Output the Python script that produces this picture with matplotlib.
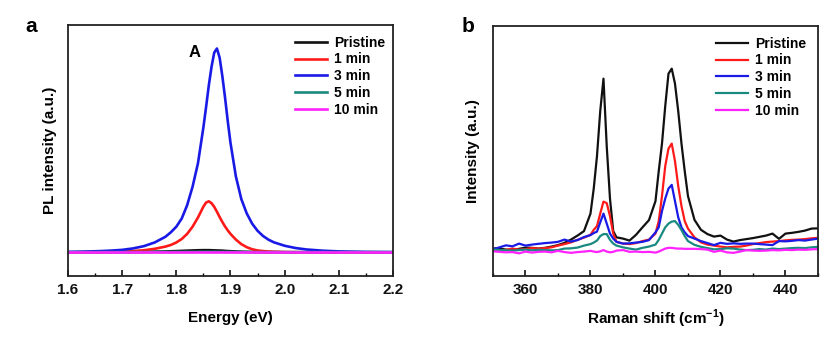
import matplotlib
matplotlib.use("Agg")
import matplotlib.pyplot as plt
from matplotlib.ticker import MultipleLocator

plt.rcParams['font.family'] = ['Liberation Sans', 'DejaVu Sans']
plt.rcParams['font.weight'] = 'bold'
plt.rcParams['mathtext.fontset'] = 'custom'
plt.rcParams['mathtext.rm'] = 'Liberation Sans:bold'
plt.rcParams['mathtext.bf'] = 'Liberation Sans:bold'

# ---- panel a: PL spectra ----
energy = [1.60, 1.63, 1.66, 1.68, 1.70, 1.72, 1.74, 1.76, 1.78, 1.79, 1.80,
          1.81, 1.82, 1.83, 1.84, 1.85, 1.855, 1.86, 1.865, 1.87, 1.875,
          1.88, 1.885, 1.89, 1.895, 1.90, 1.91, 1.92, 1.93, 1.94, 1.95,
          1.96, 1.97, 1.98, 2.00, 2.02, 2.04, 2.07, 2.10, 2.15, 2.20]
pl_pristine = [0.0, 0.03, 0.06, 0.08, 0.1, 0.15, 0.2, 0.3, 0.4, 0.5, 0.6,
               0.7, 0.8, 0.9, 1.0, 1.05, 1.05, 1.05, 1.0, 0.95, 0.9,
               0.85, 0.8, 0.7, 0.6, 0.55, 0.4, 0.3, 0.2, 0.15, 0.1,
               0.08, 0.05, 0.03, 0.0, 0.0, 0.0, 0.0, 0.0, 0.0, 0.0]
pl_1min = [0.0, 0.05, 0.1, 0.2, 0.3, 0.6, 1.0, 1.7, 2.8, 3.6, 4.8,
           6.5, 9.0, 12.5, 17.0, 22.3, 24.3, 24.9, 24.0, 22.2, 19.8,
           17.2, 14.8, 12.6, 10.7, 9.0, 6.2, 4.0, 2.5, 1.5, 0.9,
           0.6, 0.4, 0.3, 0.15, 0.1, 0.05, 0.0, 0.0, 0.0, 0.0]
pl_3min = [0.2, 0.35, 0.6, 0.85, 1.2, 1.9, 3.0, 4.8, 7.6, 9.8, 12.5,
           16.5, 23.0, 32.0, 43.5, 61.0, 71.0, 81.5, 90.5, 97.5, 99.5,
           95.0, 86.0, 75.5, 64.0, 53.5, 37.0, 26.0, 19.0, 14.0, 10.5,
           8.0, 6.2, 4.9, 3.2, 2.1, 1.4, 0.8, 0.45, 0.2, 0.1]
pl_5min = [0.1, 0.1, 0.1, 0.1, 0.1, 0.1, 0.1, 0.15, 0.15, 0.15, 0.2,
           0.2, 0.2, 0.2, 0.25, 0.25, 0.25, 0.25, 0.25, 0.25, 0.25,
           0.2, 0.2, 0.2, 0.2, 0.2, 0.15, 0.15, 0.15, 0.1, 0.1,
           0.1, 0.1, 0.1, 0.1, 0.1, 0.1, 0.1, 0.1, 0.1, 0.1]
pl_10min = [0.0, 0.0, 0.0, 0.0, 0.0, 0.0, 0.0, 0.0, 0.0, 0.0, 0.0,
            0.0, 0.0, 0.0, 0.0, 0.0, 0.0, 0.0, 0.0, 0.0, 0.0,
            0.0, 0.0, 0.0, 0.0, 0.0, 0.0, 0.0, 0.0, 0.0, 0.0,
            0.0, 0.0, 0.0, 0.0, 0.0, 0.0, 0.0, 0.0, 0.0, 0.0]

# ---- panel b: Raman spectra ----
shift = [350, 352, 354, 356, 358, 360, 362, 364, 366, 368, 370, 372, 374, 376, 378,
         380, 381, 382, 383, 384, 385, 386, 387, 388,
         390, 392, 394, 396, 398, 400,
         401, 402, 403, 404, 405, 406, 407, 408, 409, 410,
         412, 414, 416, 418, 420, 422, 424, 426, 428, 430,
         432, 434, 436, 438, 440, 442, 444, 446, 448, 450]
ram_pristine = [11.1, 11.0, 10.6, 10.4, 10.9, 11.4, 11.3, 11.0, 11.3, 11.8, 12.4, 13.3, 14.6, 16.2, 18.0,
                25.0, 35.0, 48.0, 66.0, 79.0, 52.0, 31.0, 18.0, 15.5,
                15.0, 14.2, 16.5, 19.5, 22.4, 30.0,
                42.0, 53.0, 68.0, 81.0, 83.0, 77.0, 66.0, 53.0, 42.0, 32.0,
                22.5, 18.5, 16.8, 15.8, 16.2, 14.6, 13.8, 14.4, 14.8, 15.2,
                15.7, 16.2, 17.0, 14.9, 17.0, 17.3, 17.7, 18.2, 19.0, 19.1]
ram_1min = [10.4, 10.2, 10.5, 11.0, 10.6, 10.8, 11.2, 11.0, 11.2, 11.5, 12.2, 12.8, 13.5, 14.5, 15.4,
            16.5, 18.5, 20.0, 25.0, 29.8, 29.2, 24.0, 17.0, 13.7,
            13.0, 12.8, 13.2, 14.0, 14.6, 17.0,
            22.0, 32.0, 44.0, 51.0, 53.0, 46.0, 36.0, 28.0, 22.0, 19.0,
            15.5, 13.5, 12.6, 12.2, 11.8, 11.5, 11.7, 11.8, 12.2, 12.8,
            13.2, 13.6, 13.8, 14.0, 14.3, 14.5, 14.6, 14.8, 15.1, 15.3]
ram_3min = [10.7, 11.5, 12.3, 11.9, 13.0, 12.2, 12.6, 12.9, 13.2, 13.4, 13.7, 14.6, 13.8, 14.4, 15.6,
            16.4, 17.2, 17.8, 21.5, 25.0, 21.0, 17.0, 15.0, 13.7,
            13.0, 13.1, 13.4, 13.7, 14.4, 17.5,
            19.5, 26.0, 31.0, 35.0, 36.5, 30.0, 23.5, 19.5, 17.5, 16.0,
            15.0, 14.0, 13.2, 12.4, 13.3, 12.9, 13.1, 12.9, 13.0, 13.0,
            12.8, 12.6, 12.4, 14.0, 13.9, 14.1, 14.4, 14.2, 14.6, 15.0]
ram_5min = [10.6, 10.4, 10.3, 10.2, 10.4, 10.6, 10.3, 10.5, 10.4, 10.3, 10.4, 11.0, 11.1, 11.4, 12.2,
            12.8, 13.4, 14.2, 16.0, 16.8, 16.8, 14.5, 13.0, 12.2,
            11.5, 11.0, 10.6, 11.3, 11.8, 12.6,
            14.5, 17.0, 19.5, 21.0, 21.8, 22.0, 20.5, 18.4, 16.0, 14.0,
            12.5, 11.7, 11.2, 10.7, 10.8, 11.1, 11.0, 10.6, 10.4, 10.5,
            10.8, 10.6, 11.0, 10.8, 11.0, 11.2, 11.3, 11.2, 11.5, 11.7]
ram_10min = [9.9, 9.7, 9.5, 9.6, 9.1, 9.8, 9.4, 9.7, 9.8, 9.5, 10.1, 9.6, 9.3, 9.6, 9.8,
             10.1, 9.8, 9.6, 9.9, 10.4, 9.8, 9.5, 9.7, 10.2,
             10.4, 9.7, 9.8, 9.6, 9.7, 9.4,
             9.8, 10.4, 11.0, 11.3, 11.3, 11.1, 11.0, 11.0, 10.9, 10.9,
             10.9, 10.8, 10.6, 9.7, 10.2, 9.5, 9.3, 9.8, 10.4, 10.2,
             10.1, 10.2, 10.4, 10.3, 10.5, 10.4, 10.6, 10.5, 10.7, 10.8]

labels = ['Pristine', '1 min', '3 min', '5 min', '10 min']
colors = ['#111111', '#ff1a1a', '#1a1ae6', '#1a8a80', '#ff22ff']

fig = plt.figure(figsize=(8.34, 3.40), dpi=100)
ax_a = fig.add_axes([0.0815, 0.188, 0.3897, 0.738])
ax_b = fig.add_axes([0.5911, 0.188, 0.3897, 0.735])

for ys, lab, c in zip([pl_pristine, pl_1min, pl_3min, pl_5min, pl_10min], labels, colors):
    ax_a.plot(energy, ys, color=c, lw=1.9, label=lab, solid_joinstyle='round')
for ys, lab, c in zip([ram_pristine, ram_1min, ram_3min, ram_5min, ram_10min], labels, colors):
    ax_b.plot(shift, ys, color=c, lw=1.6, label=lab)

ax_a.set_xlim(1.6, 2.2)
ax_a.set_ylim(-11.6, 110.9)
ax_a.xaxis.set_major_locator(MultipleLocator(0.1))
ax_a.xaxis.set_minor_locator(MultipleLocator(0.05))
ax_a.set_xlabel('Energy (eV)', fontsize=11, fontweight='bold', labelpad=10)
ax_a.set_ylabel('PL intensity (a.u.)', fontsize=11, fontweight='bold', labelpad=8)
ax_a.text(1.834, 97.7, 'A', fontsize=12, fontweight='bold', ha='center', va='center')

ax_b.set_xlim(350, 450)
ax_b.set_ylim(0, 100)
ax_b.xaxis.set_major_locator(MultipleLocator(20))
ax_b.xaxis.set_minor_locator(MultipleLocator(10))
ax_b.set_xlabel(r'Raman shift (cm$^{-1}$)', fontsize=11, fontweight='bold', labelpad=8)
ax_b.set_ylabel('Intensity (a.u.)', fontsize=11, fontweight='bold', labelpad=9)

for ax, lx in [(ax_a, 0.698), (ax_b, 0.686)]:
    ax.set_yticks([])
    ax.tick_params(axis='x', which='major', direction='in', length=4, width=1.2,
                   labelsize=11, pad=5, colors='#111111')
    ax.tick_params(axis='x', which='minor', direction='in', length=2.5, width=1.0)
    for lbl in ax.get_xticklabels():
        lbl.set_fontweight('bold')
    for sp in ax.spines.values():
        sp.set_linewidth(1.3)
        sp.set_color('#222222')
    ax.legend(loc='upper left', bbox_to_anchor=(lx, 0.958), frameon=False,
              handlelength=2.3, handletextpad=0.5,
              labelspacing=0.2, borderpad=0, borderaxespad=0,
              prop={'weight': 'bold', 'size': 10})

fig.text(0.030, 0.906, 'a', fontsize=15, fontweight='bold')
fig.text(0.554, 0.906, 'b', fontsize=15, fontweight='bold')

fig.savefig('out.png', dpi=100)
